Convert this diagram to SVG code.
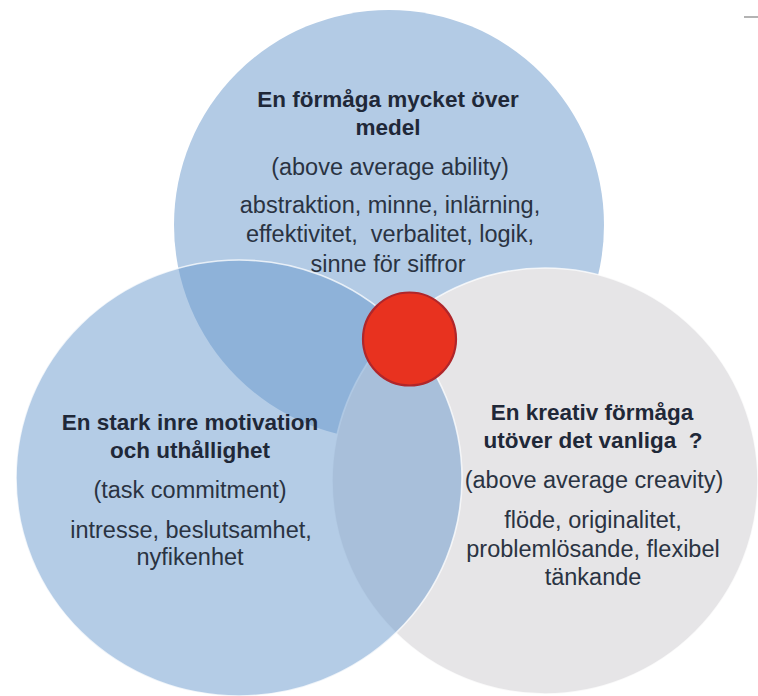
<svg xmlns="http://www.w3.org/2000/svg" width="758" height="696" viewBox="0 0 758 696">
<style>
.t{font-family:"Liberation Sans",Arial,sans-serif;text-anchor:middle;fill:#1f2838;white-space:pre}
.b{font-weight:bold;font-size:22.5px}
.r{font-size:23.5px;fill:#2a3342}
.edge{fill:none;stroke:#ffffff;stroke-opacity:0.75;stroke-width:1.6}
</style>
<rect width="758" height="696" fill="#ffffff"/>
<line x1="744" y1="17" x2="758" y2="17" stroke="#9a9a9a" stroke-width="1.5"/>
<g id="node-ability">
<circle cx="389" cy="225" r="215" fill="#b3cbe5"/>
<text class="t b" x="388" y="107">En förmåga mycket över</text>
<text class="t b" x="388" y="135">medel</text>
<text class="t r" x="390" y="175">(above average ability)</text>
<text class="t r" x="390" y="213">abstraktion, minne, inlärning,</text>
<text class="t r" x="390" y="242">effektivitet,  verbalitet, logik,</text>
<text class="t r" x="388" y="272">sinne för siffror</text>
</g>
<g id="node-creativity">
<circle cx="545" cy="481" r="213" fill="#e6e5e7"/>
<circle class="edge" cx="545" cy="481" r="213"/>
</g>
<g id="node-commitment">
<ellipse cx="239" cy="478" rx="223" ry="218" fill="rgb(105,153,205)" fill-opacity="0.5"/>
<ellipse class="edge" cx="239" cy="478" rx="223" ry="218" stroke-opacity="0.55"/>
<text class="t b" x="190" y="430">En stark inre motivation</text>
<text class="t b" x="190" y="458">och uthållighet</text>
<text class="t r" x="190" y="498">(task commitment)</text>
<text class="t r" x="191" y="538">intresse, beslutsamhet,</text>
<text class="t r" x="190" y="565">nyfikenhet</text>
</g>
<g id="node-creativity-text">
<text class="t b" x="592" y="420">En kreativ förmåga</text>
<text class="t b" x="593" y="448">utöver det vanliga  ?</text>
<text class="t r" x="594" y="488">(above average creavity)</text>
<text class="t r" x="593" y="528">flöde, originalitet,</text>
<text class="t r" x="593" y="557">problemlösande, flexibel</text>
<text class="t r" x="593" y="585">tänkande</text>
</g>
<g id="node-center">
<circle cx="409.5" cy="339" r="46.5" fill="#e8321f" stroke="#b0262a" stroke-width="2.2"/>
</g>
<g id="connectors"></g>
</svg>
